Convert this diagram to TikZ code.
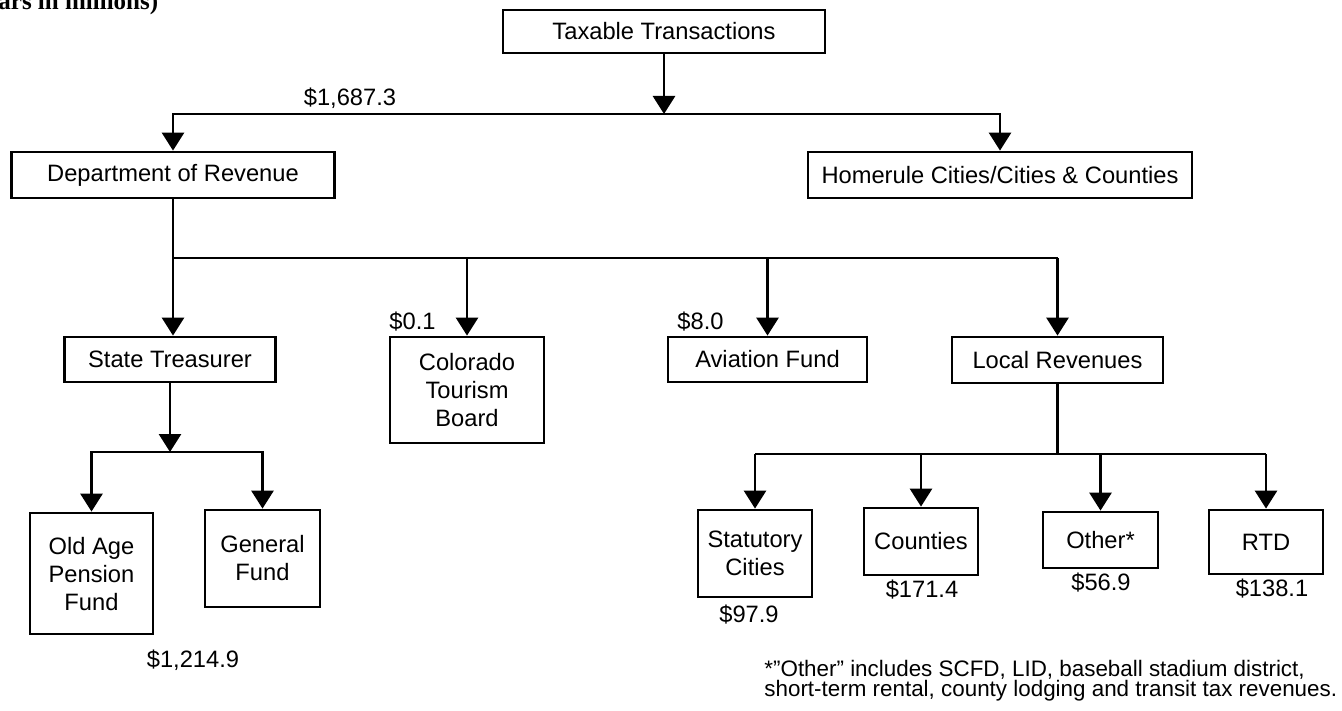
\documentclass[tikz,border=0pt]{standalone}
\usepackage{fontspec}
\setmainfont{Liberation Sans}
\newfontfamily\ttlfont{Liberation Serif}
\usetikzlibrary{arrows.meta}
\newcommand\lblfont{\fontsize{11.85}{14}\selectfont}
\newcommand\notefont{\fontsize{11.2}{10}\selectfont}
\begin{document}
\begin{tikzpicture}[x=0.5pt,y=-0.5pt,
  box/.style={draw, line width=1.4pt, inner sep=0pt, align=center, font=\lblfont},
  arr/.style={line width=1.4pt, -{Triangle[width=11pt,length=9pt]}},
  ln/.style={line width=1.4pt},
  money/.style={inner sep=0pt, font=\lblfont},
  note/.style={inner sep=0pt, anchor=base west, font=\notefont}]
\useasboundingbox (0,0) rectangle (1342,711);
\clip (0,0) rectangle (1342,711);
\fill[white] (0,0) rectangle (1342,711);

\node[anchor=base west, inner sep=0pt, font=\ttlfont\bfseries\fontsize{12.5}{14}\selectfont] (ttl) at (-2,10) {ars in millions)};

% boxes
\node[box, minimum width=161pt, minimum height=21.5pt] (tax) at (664,31.5) {Taxable Transactions};
\node[box, minimum width=161.5pt, minimum height=23pt] (dept) at (173,175) {Department of Revenue};
\node[box, minimum width=192pt, minimum height=23pt] (home) at (1000,175) {Homerule Cities/Cities \& Counties};
\node[box, minimum width=105.5pt, minimum height=22.5pt] (st) at (170,359.5) {State Treasurer};
\node[box, minimum width=77pt, minimum height=53pt] (col) at (467,390) {Colorado\\Tourism\\Board};
\node[box, minimum width=99.5pt, minimum height=22.5pt] (avi) at (767.5,359.5) {Aviation Fund};
\node[box, minimum width=105.5pt, minimum height=23pt] (loc) at (1057.5,360) {Local Revenues};
\node[box, minimum width=61.5pt, minimum height=60.5pt, text depth=-6pt] (oap) at (91.5,573.5) {Old Age\\Pension\\Fund};
\node[box, minimum width=57.5pt, minimum height=48.5pt] (gen) at (262.5,558.5) {General\\Fund};
\node[box, minimum width=57pt, minimum height=43.5pt] (stat) at (755,553.5) {Statutory\\Cities};
\node[box, minimum width=57pt, minimum height=33.5pt] (cnt) at (921,541.5) {Counties};
\node[box, minimum width=57.5pt, minimum height=28pt] (oth) at (1100.5,540) {Other*};
\node[box, minimum width=57pt, minimum height=32pt] (rtd) at (1266,542) {RTD};

% bus coordinates
\coordinate (bus0) at (0,114);
\coordinate (bus1) at (0,258);
\coordinate (bus2) at (0,452);
\coordinate (bus3) at (0,454);

% top level
\draw[arr] (tax.south) -- (tax.south |- bus0);
\draw[arr] (tax.south |- bus0) -| (dept.north);
\draw[arr] (tax.south |- bus0) -| (home.north);

% department of revenue
\draw[arr] (dept.south) -- (dept.south |- st.north);
\draw[ln] (dept.south |- bus1) -- (loc.north |- bus1);
\draw[arr] (col.north |- bus1) -- (col.north);
\draw[arr] (avi.north |- bus1) -- (avi.north);
\draw[arr] (loc.north |- bus1) -- (loc.north);

% state treasurer
\draw[arr] (st.south) -- (st.south |- bus2);
\draw[arr] (st.south |- bus2) -| (oap.north);
\draw[arr] (st.south |- bus2) -| (gen.north);

% local revenues
\draw[ln] (loc.south) -- (loc.south |- bus3);
\draw[ln] (stat.north |- bus3) -- (rtd.north |- bus3);
\draw[arr] (stat.north |- bus3) -- (stat.north);
\draw[arr] (cnt.north |- bus3) -- (cnt.north);
\draw[arr] (oth.north |- bus3) -- (oth.north);
\draw[arr] (rtd.north |- bus3) -- (rtd.north);

% amounts
\node[money] (m0) at (350,98) {\$1,687.3};
\node[money, anchor=west] (m1) at (389,322) {\$0.1};
\node[money, anchor=west] (m2) at (677,322) {\$8.0};
\node[money] (m3) at (193,660) {\$1,214.9};
\node[money] (m4) at (749,615) {\$97.9};
\node[money] (m5) at (922,590) {\$171.4};
\node[money] (m6) at (1101,583) {\$56.9};
\node[money] (m7) at (1272,589) {\$138.1};

% footnote
\node[note] (fn1) at (764,676) {*"Other" includes SCFD, LID, baseball stadium district,};
\node[note] (fn2) at (764,696) {short-term rental, county lodging and transit tax revenues.};
\end{tikzpicture}
\end{document}
